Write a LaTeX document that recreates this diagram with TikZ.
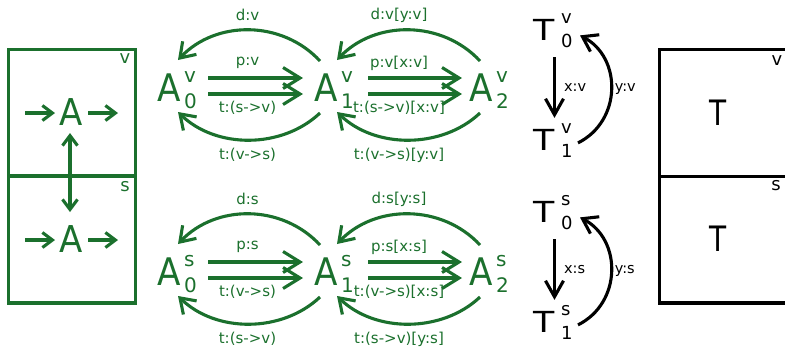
\documentclass[tikz,border=0pt]{standalone}
\usepackage{fontspec}
\setmainfont{DejaVu Sans}
\usetikzlibrary{arrows.meta,calc}
\definecolor{grn}{RGB}{27,112,45}

% big letter with stacked superscript and subscript
\newcommand\Asym[3]{\scalebox{0.9}[1]{\fontsize{38}{38}\selectfont #1}%
  \rlap{\smash{\kern3.5pt\raisebox{19pt}{\fontsize{20}{20}\selectfont #2}}}%
  \rlap{\smash{\kern3.5pt\raisebox{-7pt}{\fontsize{20}{20}\selectfont #3}}}}
\newcommand\Tsym[3]{\scalebox{1.2}[1]{\fontsize{29}{29}\selectfont #1}%
  \rlap{\smash{\kern6pt\raisebox{17.5pt}{\fontsize{18}{18}\selectfont #2}}}%
  \rlap{\smash{\kern6pt\raisebox{-7pt}{\fontsize{18}{18}\selectfont #3}}}}
\newcommand\boxA{\scalebox{0.92}[1]{\fontsize{37}{37}\selectfont A}}
\newcommand\boxT{\scalebox{0.8}[1]{\fontsize{35}{35}\selectfont T}}

\begin{document}
\begin{tikzpicture}[x=1pt,y=-1pt,line width=3.1pt,
  sym/.style={inner sep=0pt,outer sep=0pt},
  lbl/.style={inner sep=0pt,font=\fontsize{15}{15}\selectfont},
  tlbl/.style={inner sep=0pt,font=\fontsize{14.5}{14.5}\selectfont},
  corner/.style={inner sep=0pt,font=\fontsize{18}{18}\selectfont},
  small/.style={-{Straight Barb[length=10pt,width=15pt]}},
  both/.style={{Straight Barb[length=10pt,width=15pt]}-{Straight Barb[length=10pt,width=15pt]}},
  dbl/.style={-{Straight Barb[length=17pt,width=21pt]}},
  arc/.style={-{Straight Barb[length=14pt,width=19pt]}},
  xarr/.style={-{Straight Barb[length=16pt,width=18pt]}},
  yarr/.style={-{Straight Barb[length=14pt,width=19pt]}}]
\useasboundingbox (0,0) rectangle (785,346);
\clip (0,0) rectangle (785,346);

% ---- left box: one A in each half ----
\begin{scope}[grn]
  \draw (8.5,49.5) rectangle (135.5,303);
  \draw (8.5,176) -- (135.5,176);
  \node[corner,text=grn] (lv) at (125,59) {v};
  \node[corner,text=grn] (ls) at (125,187) {s};
  \node[sym,text=grn] (ba) at (71.5,111.9) {\boxA};
  \node[sym,text=grn] (bb) at (71.5,238.9) {\boxA};
  \draw[small] ($(ba)+(-46.5,1.1)$) -- ($(ba)+(-16.5,1.1)$);
  \draw[small] ($(ba)+(16.5,1.1)$) -- ($(ba)+(46.5,1.1)$);
  \draw[small] ($(bb)+(-46.5,1.1)$) -- ($(bb)+(-16.5,1.1)$);
  \draw[small] ($(bb)+(16.5,1.1)$) -- ($(bb)+(46.5,1.1)$);
  \draw[both] ($(ba)+(-1.5,21.1)$) -- ($(bb)+(-1.5,-26.9)$);
\end{scope}

% ---- the two rows of A states ----
\foreach \r/\yy/\o in {v/87.8/s, s/271.8/v}{
  \begin{scope}[grn]
    \node[sym,text=grn] (a0\r) at (169,\yy) {\Asym{A}{\r}{0}};
    \node[sym,text=grn] (a1\r) at (326,\yy) {\Asym{A}{\r}{1}};
    \node[sym,text=grn] (a2\r) at (481,\yy) {\Asym{A}{\r}{2}};
    % parallel arrows
    \draw[dbl] ($(a0\r)+(39,-9.8)$) -- ($(a1\r)+(-23,-9.8)$);
    \draw[dbl] ($(a0\r)+(39,6.2)$) -- ($(a1\r)+(-23,6.2)$);
    \draw[dbl] ($(a1\r)+(42,-9.8)$) -- ($(a2\r)+(-19,-9.8)$);
    \draw[dbl] ($(a1\r)+(42,6.2)$) -- ($(a2\r)+(-19,6.2)$);
    % returning arcs
    \draw[arc] ($(a1\r)+(-6,-26.8)$) .. controls +(-38,-41) and +(38,-40) .. ($(a0\r)+(9,-27.8)$);
    \draw[arc] ($(a1\r)+(-6,25.2)$) .. controls +(-38,36) and +(38,37) .. ($(a0\r)+(9,24.2)$);
    \draw[arc] ($(a2\r)+(-1,-26.8)$) .. controls +(-38,-41) and +(38,-40) .. ($(a1\r)+(11,-27.8)$);
    \draw[arc] ($(a2\r)+(-1,25.2)$) .. controls +(-38,36) and +(38,37) .. ($(a1\r)+(11,24.2)$);
    % labels, first pair
    \node[lbl,text=grn] (pa\r) at ($(a0\r)!.5!(a1\r)+(0,-24.8)$) {p:\r};
    \node[lbl,text=grn] (ta\r) at ($(a0\r)!.5!(a1\r)+(0,20.2)$) {t:(\o->\r)};
    \node[lbl,text=grn] (da\r) at ($(a0\r)!.5!(a1\r)+(0,-72.8)$) {d:\r};
    \node[lbl,text=grn] (ua\r) at ($(a0\r)!.5!(a1\r)+(0,67.2)$) {t:(\r->\o)};
    % labels, second pair
    \node[lbl,text=grn] (pb\r) at ($(a1\r)!.5!(a2\r)+(-4.5,-24.8)$) {p:\r[x:\r]};
    \node[lbl,text=grn] (tb\r) at ($(a1\r)!.5!(a2\r)+(-4.5,20.2)$) {t:(\o->\r)[x:\r]};
    \node[lbl,text=grn] (db\r) at ($(a1\r)!.5!(a2\r)+(-4.5,-72.8)$) {d:\r[y:\r]};
    \node[lbl,text=grn] (ub\r) at ($(a1\r)!.5!(a2\r)+(-4.5,67.2)$) {t:(\r->\o)[y:\r]};
  \end{scope}
}

% ---- T states ----
\foreach \r/\yy in {v/30.4, s/212.4}{
  \node[sym] (t0\r) at (544.5,\yy) {\Tsym{T}{\r}{0}};
  \node[sym] (t1\r) at (544.5,\yy+110) {\Tsym{T}{\r}{1}};
  \draw[xarr] ($(t0\r)+(10,27)$) -- ($(t1\r)+(10,-22.5)$)
    node[tlbl,midway,right=8pt] (lx\r) {x:\r};
  \draw[yarr] ($(t1\r)+(33.5,2.5)$) .. controls +(44,-22) and +(42,22) .. ($(t0\r)+(35.5,5)$)
    node[tlbl,midway,right=2pt] (ly\r) {y:\r};
}

% ---- right box: one T in each half ----
\draw (659.5,49.5) rectangle (800,303);
\draw (659.5,176.5) -- (800,176.5);
\node[corner] (rv) at (777,61) {v};
\node[corner] (rs) at (776,186) {s};
\node[sym] (rt) at (718.5,112.5) {\boxT};
\node[sym] (rb) at (718.5,238.5) {\boxT};
\end{tikzpicture}
\end{document}
